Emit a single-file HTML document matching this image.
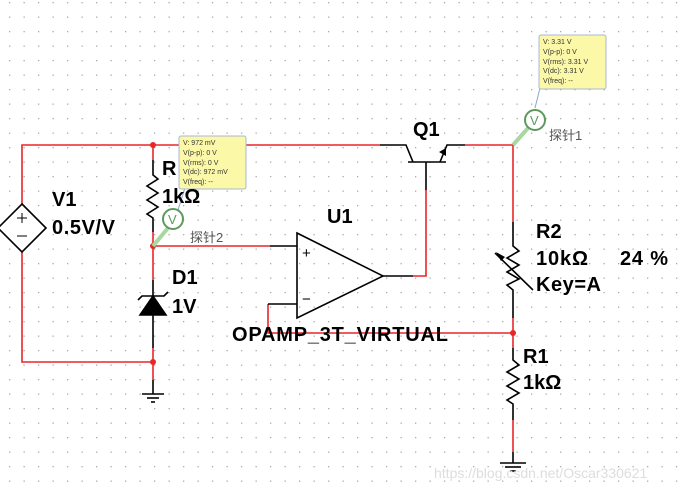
<!DOCTYPE html>
<html><head><meta charset="utf-8"><style>
html,body{margin:0;padding:0;background:#fff;}
svg{display:block;font-family:"Liberation Sans",Arial,sans-serif;}
.b{font-weight:bold;font-size:20px;fill:#000;}
.t{font-size:7px;fill:#333;}
.cn{font-family:"Liberation Sans","Noto Sans CJK SC",sans-serif;font-size:13px;fill:#555;}
</style></head><body>
<svg width="682" height="490" viewBox="0 0 682 490">
<defs><pattern id="g" x="9" y="2" width="14.5" height="14.5" patternUnits="userSpaceOnUse"><rect width="1.3" height="1.3" fill="#aaa"/></pattern></defs>
<rect width="682" height="490" fill="url(#g)"/>
<g fill="none" stroke-width="1.6">
<g stroke="#e8262a">
<polyline points="22,204 22,145 380,145"/>
<polyline points="22,252 22,362 153,362"/>
<line x1="153" y1="145" x2="153" y2="160"/>
<line x1="153" y1="232" x2="153" y2="280"/>
<line x1="153" y1="348" x2="153" y2="380"/>
<line x1="153" y1="246" x2="270" y2="246"/>
<polyline points="465,145 513,145 513,222"/>
<polyline points="413,276 426,276 426,190"/>
<polyline points="268,304 268,333 513,333"/>
<line x1="513" y1="318" x2="513" y2="348"/>
<line x1="513" y1="420" x2="513" y2="452"/>
</g>
<g stroke="#000">
<polygon points="22,204 46,228 22,252 -2,228" fill="#fff"/>
<polyline points="153,160 153,175 158,179 147,186 158,193 147,200 158,207 147,214 153,218 153,232"/>
<line x1="153" y1="280" x2="153" y2="348"/>
<polygon points="140,315 166,315 153,296" fill="#000"/>
<polyline points="138,300 142,296 164,296 168,292"/>
<line x1="153" y1="380" x2="153" y2="394"/>
<line x1="142" y1="394" x2="164" y2="394"/><line x1="147" y1="398" x2="159" y2="398"/><line x1="151" y1="402" x2="155" y2="402"/>
<polygon points="297,233 383,276 297,318"/>
<line x1="270" y1="246" x2="297" y2="246"/>
<line x1="268" y1="304" x2="297" y2="304"/>
<line x1="383" y1="276" x2="413" y2="276"/>
<polyline points="380,145 406,145 413,162"/>
<line x1="408" y1="162" x2="446" y2="162"/>
<polyline points="440,162 447,145 465,145"/>
<line x1="426" y1="162" x2="426" y2="190"/>
<polyline points="513,222 513,246 519,251 507,258 519,265 507,272 519,279 507,285 513,290 513,318"/>
<line x1="495" y1="253" x2="533" y2="290"/>
<polyline points="513,348 513,360 519,365 507,372 519,379 507,386 519,393 507,400 513,404 513,420"/>
<line x1="513" y1="452" x2="513" y2="463"/>
<line x1="500" y1="463" x2="526" y2="463"/><line x1="505" y1="467" x2="521" y2="467"/><line x1="510" y1="471" x2="516" y2="471"/>
</g>
</g>
<polygon points="496,252 505,257 501,261" fill="#000"/>
<polygon points="446,148 446,156 439,152" fill="#000"/>
<line x1="22" y1="213" x2="22" y2="223" stroke="#000"/><line x1="17" y1="218" x2="27" y2="218" stroke="#000"/>
<line x1="17" y1="236" x2="27" y2="236" stroke="#000"/>
<text x="302" y="258" font-size="15">+</text><text x="302" y="304" font-size="15">−</text>
<g fill="#e8262a"><circle cx="153" cy="145" r="3"/><circle cx="153" cy="246" r="3"/><circle cx="153" cy="362" r="3"/><circle cx="513" cy="333" r="3"/></g>
<line x1="153" y1="246" x2="168" y2="228" stroke="#a8d8a0" stroke-width="4"/>
<line x1="513" y1="145" x2="528" y2="128" stroke="#a8d8a0" stroke-width="4"/>
<line x1="178" y1="210" x2="185" y2="188" stroke="#8aa8cc"/>
<line x1="535" y1="108" x2="540" y2="88" stroke="#8aa8cc"/>
<circle cx="173" cy="219" r="10" fill="#fff" stroke="#5c9a5c" stroke-width="2"/>
<circle cx="535" cy="120" r="10" fill="#fff" stroke="#5c9a5c" stroke-width="2"/>
<text x="168" y="224" font-size="13" fill="#5c9a5c">V</text>
<text x="530" y="125" font-size="13" fill="#5c9a5c">V</text>
<text x="190" y="242" class="cn">探针2</text>
<text x="549" y="140" class="cn">探针1</text>
<rect x="179" y="136" width="67" height="53" rx="2" fill="#fbf8a8" stroke="#a8b8d8"/>
<text class="t"><tspan x="183" y="145">V: 972 mV</tspan><tspan x="183" y="155">V(p-p): 0 V</tspan><tspan x="183" y="165">V(rms): 0 V</tspan><tspan x="183" y="174">V(dc): 972 mV</tspan><tspan x="183" y="184">V(freq): --</tspan></text>
<rect x="539" y="35" width="67" height="54" rx="2" fill="#fbf8a8" stroke="#a8b8d8"/>
<text class="t"><tspan x="543" y="44">V: 3.31 V</tspan><tspan x="543" y="54">V(p-p): 0 V</tspan><tspan x="543" y="64">V(rms): 3.31 V</tspan><tspan x="543" y="73">V(dc): 3.31 V</tspan><tspan x="543" y="83">V(freq): --</tspan></text>
<text class="b" x="52" y="206">V1</text>
<text class="b" x="52" y="234" textLength="63">0.5V/V</text>
<text class="b" x="162" y="175">R</text>
<text class="b" x="162" y="203">1kΩ</text>
<text class="b" x="172" y="284">D1</text>
<text class="b" x="172" y="313">1V</text>
<text class="b" x="413" y="136">Q1</text>
<text class="b" x="327" y="223">U1</text>
<text class="b" x="232" y="341" textLength="216">OPAMP_3T_VIRTUAL</text>
<text class="b" x="536" y="238">R2</text>
<text class="b" x="536" y="265" textLength="52">10kΩ</text>
<text class="b" x="620" y="265" textLength="48">24 %</text>
<text class="b" x="536" y="291" textLength="65">Key=A</text>
<text class="b" x="523" y="363">R1</text>
<text class="b" x="523" y="389">1kΩ</text>
<text x="434" y="478" font-size="14" fill="#ddd">https://blog.csdn.net/Oscar330621</text>
</svg>
</body></html>
